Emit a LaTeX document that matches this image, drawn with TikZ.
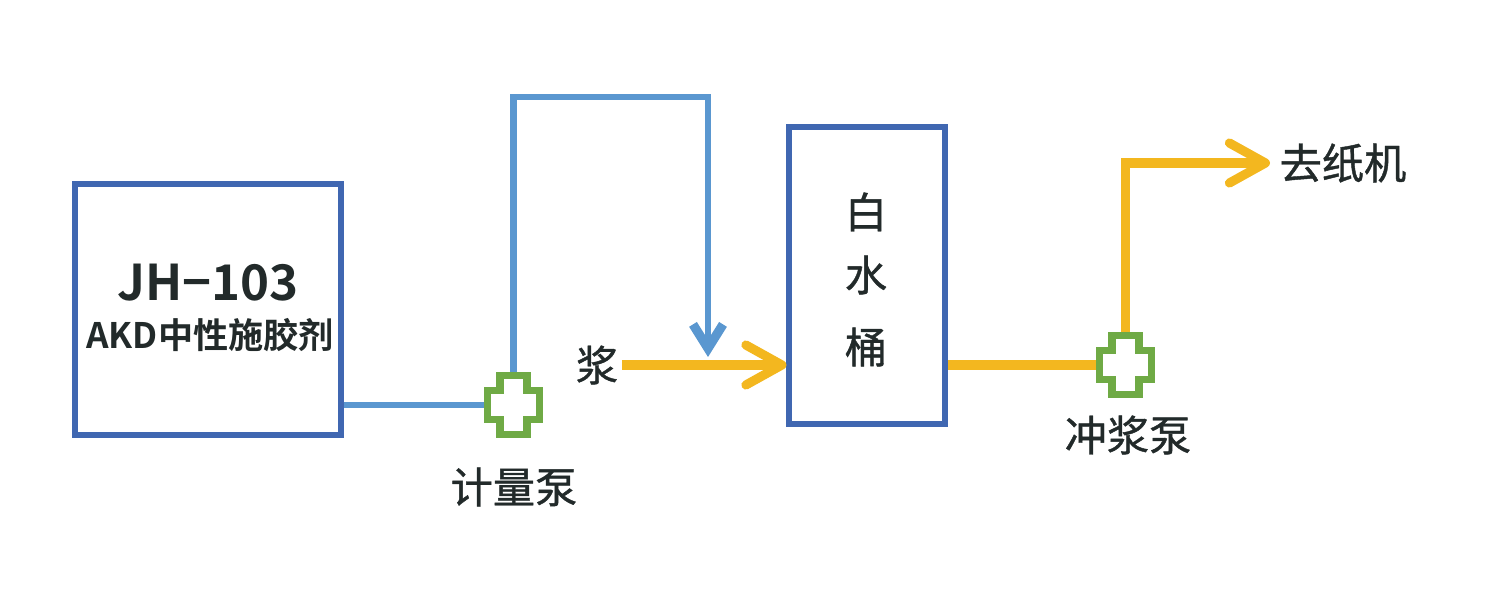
\documentclass[tikz,border=0pt]{standalone}
\usepackage{fontspec}
\setmainfont{Noto Sans CJK SC}[UprightFeatures={FakeBold=1}, BoldFont={Noto Sans CJK SC Bold}]
\usetikzlibrary{arrows.meta}
\definecolor{boxblue}{HTML}{4067B1}
\definecolor{lineblue}{HTML}{5A97D0}
\definecolor{pipeyellow}{HTML}{F3B71F}
\definecolor{pumpgreen}{HTML}{6FAA45}
\definecolor{txt}{HTML}{222A2A}
\tikzset{
  tank/.style={draw=boxblue, line width=1.45pt, fill=white, inner sep=0pt},
  pumpnode/.style={inner sep=0pt, minimum width=0.52cm, minimum height=0.59cm},
  pumpline/.style={draw=pumpgreen, line width=2pt, fill=white},
  bluepipe/.style={draw=lineblue, line width=1.8pt},
  yellowpipe/.style={draw=pipeyellow, line width=2.6pt},
  lbl/.style={text=txt, font=\fontsize{12pt}{14pt}\selectfont, inner sep=0pt},
  pump/.pic={\draw[pumpline] (-0.135,0.295) -- (0.135,0.295) -- (0.135,0.145) -- (0.26,0.145) -- (0.26,-0.145) -- (0.135,-0.145) -- (0.135,-0.295) -- (-0.135,-0.295) -- (-0.135,-0.145) -- (-0.26,-0.145) -- (-0.26,0.145) -- (-0.135,0.145) -- cycle;}
}
\begin{document}
\begin{tikzpicture}
\useasboundingbox (0,0) rectangle (15,6);
% nodes
\node[tank, minimum width=2.66cm, minimum height=2.51cm] (akd) at (2.08,2.905) {};
\node[lbl, font=\fontsize{14pt}{16pt}\selectfont\bfseries] (t1) at (2.08,3.17) {JH−103};
\node[lbl, font=\fontsize{10pt}{12pt}\selectfont\bfseries] (t2) at (2.10,2.65) {AKD中性施胶剂};
\node[tank, minimum width=1.56cm, minimum height=2.97cm] (wbox) at (8.67,3.245) {};
\node[lbl] (w1) at (8.66,3.88) {白};
\node[lbl] (w2) at (8.66,3.25) {水};
\node[lbl] (w3) at (8.66,2.53) {桶};
\node[pumpnode] (p1) at (5.135,1.95) {};
\node[pumpnode] (p2) at (11.255,2.35) {};
\node[lbl] (l1) at (5.14,1.13) {计量泵};
\node[lbl] (l2) at (11.28,1.65) {冲浆泵};
\node[lbl] (slurry) at (5.97,2.35) {浆};
\node[lbl, anchor=west] (paper) at (12.79,4.37) {去纸机};
\coordinate (c1) at (5.135,5.03);
\coordinate (c2) at (7.08,5.03);
\coordinate (c3) at (7.08,2.43);
\coordinate (c4) at (11.255,4.37);
\coordinate (c5) at (12.70,4.37);
% connectors
\draw[bluepipe] (akd.east |- p1.west) -- (p1.west);
\draw[bluepipe, -{Straight Barb[length=2.4mm,width=3.0mm,line width=2.6pt]}] (p1.north) -- (c1) -- (c2) -- (c3);
\draw[yellowpipe, -{Straight Barb[length=3.6mm,width=4.0mm,round]}] (slurry.east) ++(0.03,0) -- (wbox.west |- slurry.east);
\draw[yellowpipe] (wbox.east |- p2.west) -- (p2.west);
\draw[yellowpipe, -{Straight Barb[length=3.6mm,width=4.0mm,round]}] (p2.north) -- (c4) -- (c5);
% pumps
\pic at (p1) {pump};
\pic at (p2) {pump};
\end{tikzpicture}
\end{document}
